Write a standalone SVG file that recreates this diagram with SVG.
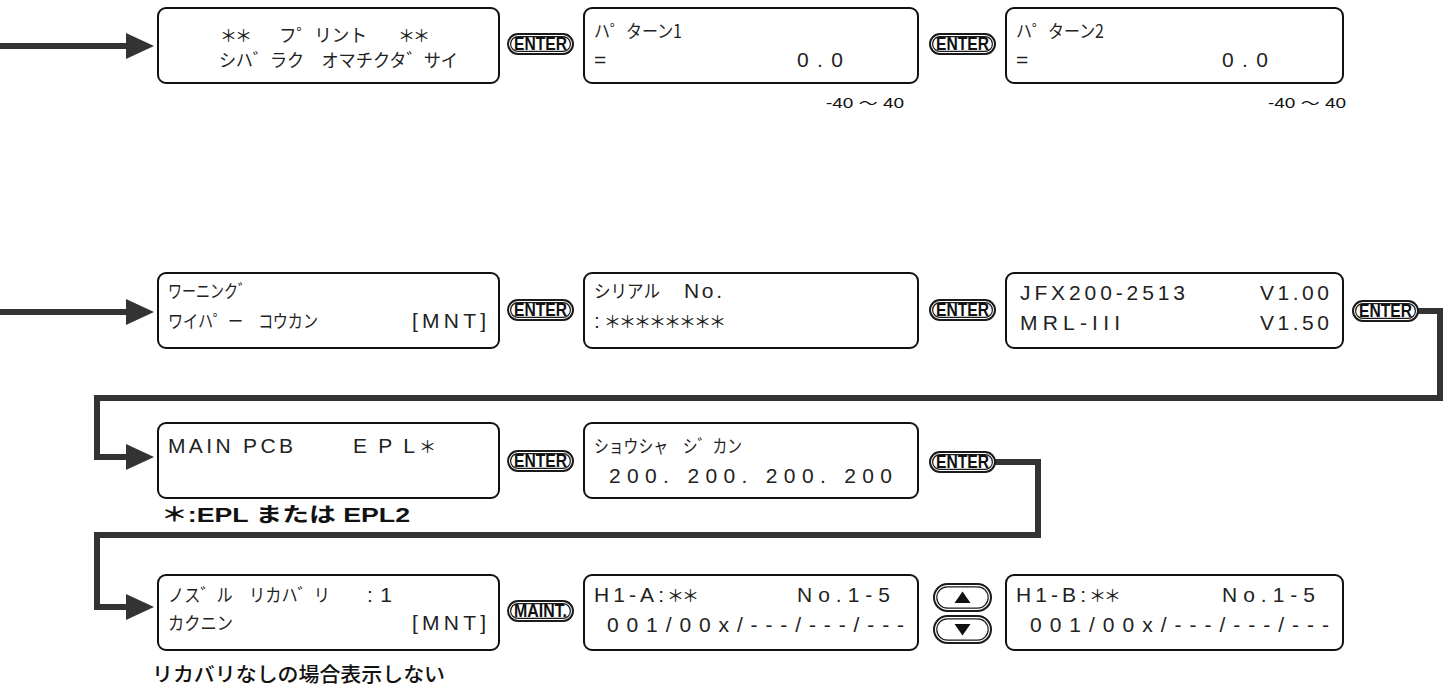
<svg xmlns="http://www.w3.org/2000/svg" xmlns:xlink="http://www.w3.org/1999/xlink" width="1447" height="686" viewBox="0 0 1447 686">
<style>
.box{fill:#fff;stroke:#111;stroke-width:2}
.lcd{font-family:"Liberation Sans","Noto Sans CJK JP",sans-serif;font-size:21px;fill:#222}
.jp{font-family:"Noto Sans CJK JP",sans-serif;font-size:18px;fill:#222}
.ast{font-family:"Noto Sans CJK JP",sans-serif;font-size:17px;fill:#222}
.lbl{font-family:"Liberation Sans","Noto Sans CJK JP",sans-serif;font-size:14px;fill:#111}
.note{font-family:"Liberation Sans","Noto Sans CJK JP",sans-serif;font-size:20px;font-weight:bold;fill:#111}
.note2{font-family:"Noto Sans CJK JP",sans-serif;font-size:20px;font-weight:500;fill:#111}
.conn{fill:none;stroke:#333;stroke-width:6;stroke-linejoin:miter}
.bo{fill:#fff;stroke:#1a1a1a;stroke-width:2}
.bi{fill:none;stroke:#1a1a1a;stroke-width:1.2}
.bt{font-family:"Liberation Sans",sans-serif;font-weight:bold;font-size:18px;fill:#111}
</style>
<defs>
<marker id="ah" markerUnits="userSpaceOnUse" markerWidth="28" markerHeight="26" refX="2" refY="13" orient="auto">
<path d="M0,0 L28,13 L0,26 Z" fill="#333"/>
</marker>
<g id="enter">
<rect class="bo" x="1" y="1" width="65" height="20" rx="10"/>
<rect class="bi" x="3.6" y="3.6" width="59.8" height="14.8" rx="7.4"/>
<text class="bt" x="33.5" y="17.2" text-anchor="middle" textLength="53" lengthAdjust="spacingAndGlyphs">ENTER</text>
</g>
<g id="maint">
<rect class="bo" x="1" y="1" width="65" height="20" rx="10"/>
<rect class="bi" x="3.6" y="3.6" width="59.8" height="14.8" rx="7.4"/>
<text class="bt" x="33.5" y="17.2" text-anchor="middle" textLength="53" lengthAdjust="spacingAndGlyphs">MAINT.</text>
</g>
<g id="updown-up">
<rect class="bo" x="1" y="1" width="57" height="27" rx="13.5"/>
<rect class="bi" x="3.8" y="3.8" width="51.4" height="21.4" rx="10.7"/>
<path d="M21.5,20 L29.5,8.5 L37.5,20 Z" fill="#111"/>
</g>
<g id="updown-down">
<rect class="bo" x="1" y="1" width="57" height="27" rx="13.5"/>
<rect class="bi" x="3.8" y="3.8" width="51.4" height="21.4" rx="10.7"/>
<path d="M21.5,9 L29.5,20.5 L37.5,9 Z" fill="#111"/>
</g>
</defs>
<rect width="1447" height="686" fill="#fff"/>

<g id="connectors">
<path class="conn" d="M0,46 H128" marker-end="url(#ah)"/>
<path class="conn" d="M0,312 H128" marker-end="url(#ah)"/>
<path class="conn" d="M1418,311 H1440 V398 H97 V457 H128" marker-end="url(#ah)"/>
<path class="conn" d="M995,462 H1038 V535 H97 V607 H128" marker-end="url(#ah)"/>
</g>

<g id="n-print">
<rect class="box" x="158" y="8" width="341" height="75" rx="8"/>
<text class="ast" x="220 235" y="42">＊＊</text>
<text class="jp" x="279" y="42" textLength="88" lengthAdjust="spacingAndGlyphs">フ゜リント</text>
<text class="ast" x="398 413" y="42">＊＊</text>
<text class="jp" x="219" y="67" textLength="239" lengthAdjust="spacingAndGlyphs">シハ゛ラク　オマチクタ゛サイ</text>
</g>
<g id="n-pattern1">
<rect class="box" x="584" y="8" width="334" height="75" rx="8"/>
<text class="jp" x="594" y="38" textLength="88" lengthAdjust="spacingAndGlyphs">ハ゜ターン1</text>
<text class="lcd" x="594" y="67">=</text>
<text class="lcd" x="797" y="67" textLength="46" lengthAdjust="spacing">0.0</text>
</g>
<g id="n-pattern2">
<rect class="box" x="1006" y="8" width="337" height="75" rx="8"/>
<text class="jp" x="1016" y="38" textLength="88" lengthAdjust="spacingAndGlyphs">ハ゜ターン2</text>
<text class="lcd" x="1016" y="67">=</text>
<text class="lcd" x="1222" y="67" textLength="46" lengthAdjust="spacing">0.0</text>
</g>
<text class="lbl" x="826" y="108" textLength="78" lengthAdjust="spacingAndGlyphs">-40 ～ 40</text>
<text class="lbl" x="1268" y="108" textLength="78" lengthAdjust="spacingAndGlyphs">-40 ～ 40</text>

<g id="n-warning">
<rect class="box" x="158" y="273" width="341" height="75" rx="8"/>
<text class="jp" x="168" y="298" textLength="84" lengthAdjust="spacingAndGlyphs">ワーニンク゛</text>
<text class="jp" x="168" y="328" textLength="150" lengthAdjust="spacingAndGlyphs">ワイハ゜ー　コウカン</text>
<text class="lcd" x="412" y="328" textLength="74" lengthAdjust="spacing">[MNT]</text>
</g>
<g id="n-serial">
<rect class="box" x="584" y="273" width="334" height="75" rx="8"/>
<text class="jp" x="594" y="298" textLength="66" lengthAdjust="spacingAndGlyphs">シリアル</text>
<text class="lcd" x="684" y="298" textLength="38" lengthAdjust="spacing">No.</text>
<text class="lcd" x="594" y="328">:</text>
<text class="ast" x="604 619 634 649 664 679 694 709" y="328">＊＊＊＊＊＊＊＊</text>
</g>
<g id="n-version">
<rect class="box" x="1006" y="273" width="337" height="75" rx="8"/>
<text class="lcd" x="1020" y="300" textLength="165" lengthAdjust="spacing">JFX200-2513</text>
<text class="lcd" x="1260" y="300" textLength="69" lengthAdjust="spacing">V1.00</text>
<text class="lcd" x="1020" y="330" textLength="100" lengthAdjust="spacing">MRL-III</text>
<text class="lcd" x="1260" y="330" textLength="69" lengthAdjust="spacing">V1.50</text>
</g>

<g id="n-mainpcb">
<rect class="box" x="158" y="423" width="341" height="75" rx="8"/>
<text class="lcd" x="168" y="453" textLength="125" lengthAdjust="spacing">MAIN PCB</text>
<text class="lcd" x="353" y="453" textLength="62" lengthAdjust="spacing">EPL</text>
<text class="ast" x="419" y="453">＊</text>
</g>
<text class="note" x="161" y="522" textLength="249" lengthAdjust="spacingAndGlyphs">＊:EPL または EPL2</text>
<g id="n-time">
<rect class="box" x="584" y="423" width="334" height="75" rx="8"/>
<text class="jp" x="594" y="453" textLength="148" lengthAdjust="spacingAndGlyphs">ショウシャ　シ゛カン</text>
<text class="lcd" x="609" y="483" textLength="283" lengthAdjust="spacing">200. 200. 200. 200</text>
</g>

<g id="n-nozzle">
<rect class="box" x="158" y="575" width="341" height="75" rx="8"/>
<text class="jp" x="168" y="602" textLength="162" lengthAdjust="spacingAndGlyphs">ノス゛ル　リカハ゛リ</text>
<text class="lcd" x="367" y="602" textLength="25" lengthAdjust="spacing">:1</text>
<text class="jp" x="168" y="630" textLength="65" lengthAdjust="spacingAndGlyphs">カクニン</text>
<text class="lcd" x="412" y="630" textLength="74" lengthAdjust="spacing">[MNT]</text>
</g>
<text class="note2" x="152" y="682" textLength="293" lengthAdjust="spacingAndGlyphs">リカバリなしの場合表示しない</text>
<g id="n-h1a">
<rect class="box" x="584" y="575" width="334" height="75" rx="8"/>
<text class="lcd" x="594" y="602" textLength="70" lengthAdjust="spacing">H1-A:</text>
<text class="ast" x="667 682" y="602">＊＊</text>
<text class="lcd" x="797" y="602" textLength="93" lengthAdjust="spacing">No.1-5</text>
<text class="lcd" x="607" y="632" textLength="297" lengthAdjust="spacing">001/00x/---/---/---</text>
</g>
<g id="n-h1b">
<rect class="box" x="1006" y="575" width="337" height="75" rx="8"/>
<text class="lcd" x="1016" y="602" textLength="70" lengthAdjust="spacing">H1-B:</text>
<text class="ast" x="1089 1104" y="602">＊＊</text>
<text class="lcd" x="1222" y="602" textLength="93" lengthAdjust="spacing">No.1-5</text>
<text class="lcd" x="1030" y="632" textLength="299" lengthAdjust="spacing">001/00x/---/---/---</text>
</g>

<g id="buttons">
<use id="b1" xlink:href="#enter" x="507" y="33"/>
<use id="b2" xlink:href="#enter" x="929" y="33"/>
<use id="b3" xlink:href="#enter" x="507" y="299"/>
<use id="b4" xlink:href="#enter" x="929" y="299"/>
<use id="b5" xlink:href="#enter" x="1352" y="300"/>
<use id="b6" xlink:href="#enter" x="507" y="450"/>
<use id="b7" xlink:href="#enter" x="929" y="451"/>
<use id="b8" xlink:href="#maint" x="507" y="600"/>
<use id="b9" xlink:href="#updown-up" x="933" y="583"/>
<use id="b10" xlink:href="#updown-down" x="933" y="615"/>
</g>
</svg>
